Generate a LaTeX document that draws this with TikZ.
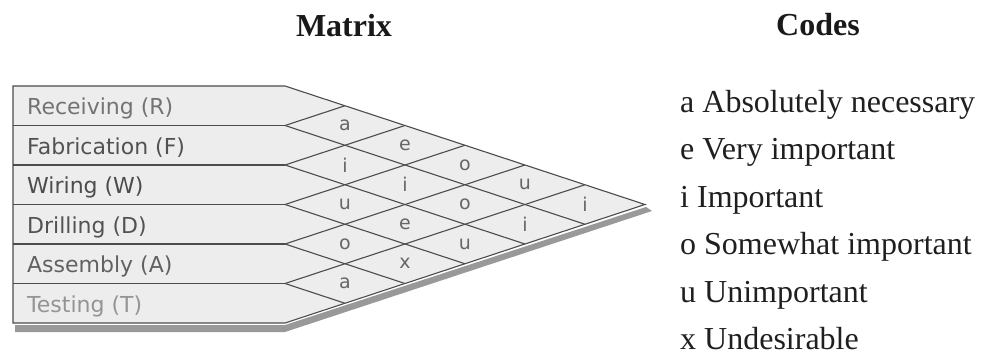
\documentclass[tikz,border=0pt]{standalone}
\usepackage{fontspec}
\setmainfont{Liberation Serif}
\newfontfamily\deptfont{DejaVu Sans}
\usetikzlibrary{positioning}

\begin{document}
\begin{tikzpicture}[x=1pt,y=-1pt,
head/.style={anchor=base,inner sep=0pt,font=\fontsize{32}{36}\selectfont\bfseries,text=black!90},
dept/.style={anchor=base west,inner sep=0pt,font=\deptfont\fontsize{22}{24}\selectfont},
rel/.style={inner sep=1pt,font=\deptfont\fontsize{19}{22}\selectfont,text=black!60},
code/.style={anchor=base west,inner sep=0pt,font=\fontsize{32}{36}\selectfont,text=black!88},
grid/.style={draw=black!70,line width=1.1pt}]
\useasboundingbox (0,0) rectangle (999,356);
% titles
\node[head] (mtx) at (344,36) {Matrix};
\node[head] (cds) at (818,35) {Codes};
% chart outline with its shadow
\coordinate (tl) at (13,86); \coordinate (tr) at (285,86);
\coordinate (bl) at (13,323); \coordinate (br) at (285,323);
\coordinate (tip) at (645,204.5);
\fill[black!40] (15,325)--(285,325)--(646,207)--(652,211)--(285,332)--(15,332)--cycle;
\filldraw[grid,fill=black!7] (tl)--(tr)--(tip)--(br)--(bl)--cycle;
% row boundaries and diagonals
\foreach \k in {1,...,5}{
  \coordinate (a\k) at (13,86+39.5*\k);
  \coordinate (b\k) at (285,86+39.5*\k);
  \draw[grid] (a\k)--(b\k);
  \draw[grid] (b\k)--++(60*\k,-19.75*\k);
  \draw[grid] (b\k)--++({60*(6-\k)},{19.75*(6-\k)});
}
% departments
\foreach \t/\c [count=\k from 0] in {{Receiving (R)}/black!55,{Fabrication (F)}/black!68,
  {Wiring (W)}/black!70,{Drilling (D)}/black!68,{Assembly (A)}/black!62,{Testing (T)}/black!42}
  \node[dept,text=\c] (dept\k) at (27,{86+39.5*\k+28.5}) {\t};
% closeness ratings
\foreach \i/\j/\c in {0/1/a,1/2/i,2/3/u,3/4/o,4/5/a,0/2/e,1/3/i,2/4/e,3/5/x,
  0/3/o,1/4/o,2/5/u,0/4/u,1/5/i,0/5/i}
  \node[rel] (r\i\j) at ({285+60*(\j-\i)},{86+19.75*(1+\i+\j)}) {\c};
% codes
\foreach \t [count=\k from 0] in {a Absolutely necessary,e Very important,i Important,
  o Somewhat important,u Unimportant,x Undesirable}
  \node[code] (code\k) at (680,{112+47.5*\k}) {\t};
\end{tikzpicture}
\end{document}
